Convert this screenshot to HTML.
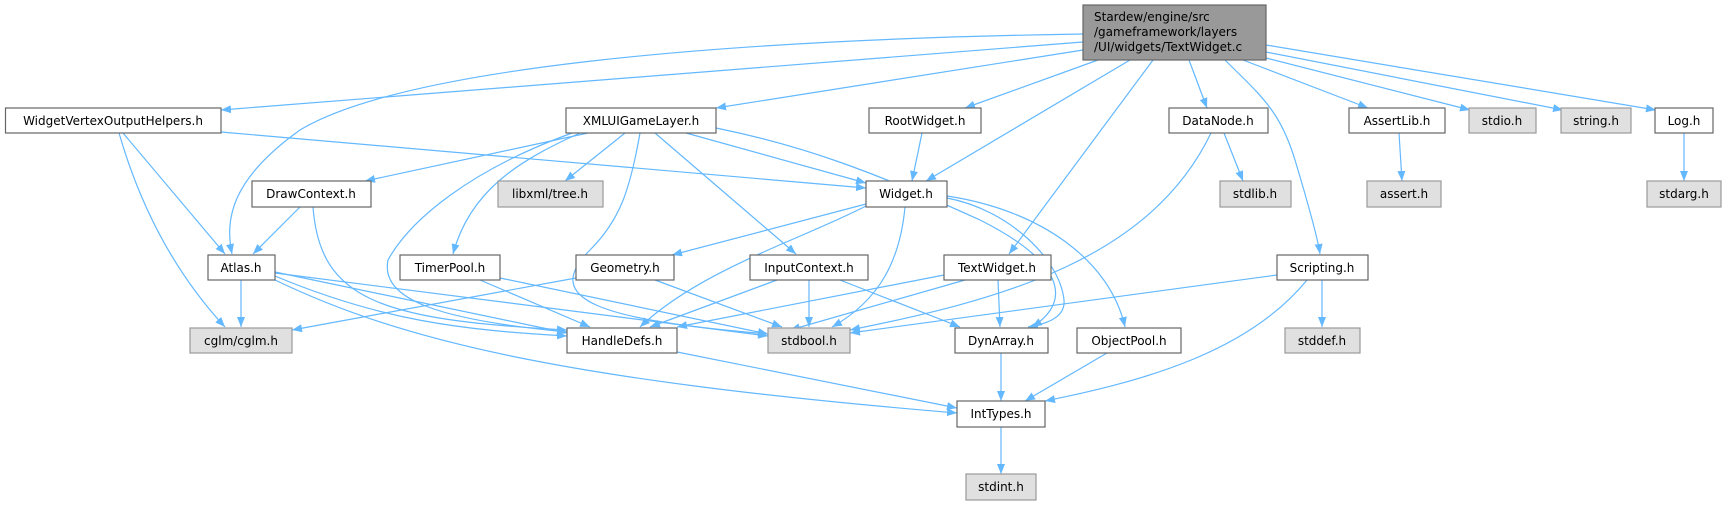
<!DOCTYPE html>
<html><head><meta charset="utf-8"><style>
html,body{margin:0;padding:0;background:#fff;width:1727px;height:505px;overflow:hidden}
svg text{font-family:"DejaVu Sans","Liberation Sans",sans-serif;font-size:12px;fill:#000}
.e{fill:none;stroke:#63b8ff;stroke-width:1.2}
.n{fill:#fff;stroke:#666;stroke-width:1.2}
.g{fill:#e0e0e0;stroke:#999;stroke-width:1.2}
</style></head><body>
<svg width="1727" height="505" viewBox="0 0 1727 505" xmlns="http://www.w3.org/2000/svg">
<defs><marker id="a" markerWidth="11" markerHeight="8" refX="10" refY="4" orient="auto" markerUnits="userSpaceOnUse"><path d="M0,0 L10,4 L0,8 z" fill="#63b8ff"/></marker></defs>
<g marker-end="url(#a)">
<path class="e" d="M1083,42 L221,110"/>
<path class="e" d="M1083,34 C700,40 400,70 300,130 C230,180 225,220 232,254"/>
<path class="e" d="M1083,50 L716,108"/>
<path class="e" d="M1098,60 L965,108"/>
<path class="e" d="M1130,60 L926,181"/>
<path class="e" d="M1153,60 L1009,254"/>
<path class="e" d="M1189,60 L1207,108"/>
<path class="e" d="M1225,60 C1260,95 1280,110 1295,160 C1310,210 1318,240 1320,254"/>
<path class="e" d="M1243,60 L1368,108"/>
<path class="e" d="M1266,58 L1470,110"/>
<path class="e" d="M1266,52 L1563,110"/>
<path class="e" d="M1266,45 L1656,110"/>
<path class="e" d="M922,133 L912,181"/>
<path class="e" d="M221,132 L866,188"/>
<path class="e" d="M123,133 L225,254"/>
<path class="e" d="M119,133 C150,240 200,300 225,327"/>
<path class="e" d="M588,133 L365,181"/>
<path class="e" d="M625,133 L565,181"/>
<path class="e" d="M686,133 L866,183"/>
<path class="e" d="M580,133 C520,160 470,190 453,254"/>
<path class="e" d="M655,133 L796,254"/>
<path class="e" d="M572,133 C470,170 410,220 388,260 C380,300 440,320 567,332"/>
<path class="e" d="M640,133 C630,190 620,220 590,250 C540,300 600,320 768,334"/>
<path class="e" d="M716,128 C800,145 870,170 980,220 C1060,260 1075,300 1032,327"/>
<path class="e" d="M300,207 L253,254"/>
<path class="e" d="M313,207 C320,300 380,320 567,330"/>
<path class="e" d="M241,280 L241,327"/>
<path class="e" d="M275,272 L567,333"/>
<path class="e" d="M275,276 C380,320 460,330 567,336"/>
<path class="e" d="M275,273 L768,336"/>
<path class="e" d="M275,280 C400,340 560,380 957,413"/>
<path class="e" d="M480,280 L590,327"/>
<path class="e" d="M500,278 L768,334"/>
<path class="e" d="M576,278 L292,330"/>
<path class="e" d="M655,280 L782,327"/>
<path class="e" d="M777,280 L650,327"/>
<path class="e" d="M809,280 L809,327"/>
<path class="e" d="M840,280 L960,327"/>
<path class="e" d="M866,204 L672,255"/>
<path class="e" d="M866,206 C800,240 700,270 640,327"/>
<path class="e" d="M905,207 C900,260 880,300 832,327"/>
<path class="e" d="M947,198 C1010,210 1060,260 1064,300 C1066,320 1040,325 1028,327"/>
<path class="e" d="M947,196 C1040,210 1110,260 1125,327"/>
<path class="e" d="M944,275 L677,327"/>
<path class="e" d="M965,280 L790,330"/>
<path class="e" d="M998,280 L1000,327"/>
<path class="e" d="M1211,133 C1150,260 1000,300 850,330"/>
<path class="e" d="M1224,133 L1243,181"/>
<path class="e" d="M1399,133 L1402,181"/>
<path class="e" d="M1684,133 L1684,181"/>
<path class="e" d="M1277,275 L850,333"/>
<path class="e" d="M1322,280 L1322,327"/>
<path class="e" d="M1307,280 C1250,350 1150,380 1045,401"/>
<path class="e" d="M677,352 L957,408"/>
<path class="e" d="M1001,353 L1001,401"/>
<path class="e" d="M1107,353 L1025,401"/>
<path class="e" d="M1001,427 L1001,474"/>
</g>
<rect x="1083" y="5" width="183" height="55" fill="#999" stroke="#666" stroke-width="1.2"/>
<text x="1094" y="21">Stardew/engine/src</text>
<text x="1094" y="36">/gameframework/layers</text>
<text x="1094" y="51">/UI/widgets/TextWidget.c</text>

<rect class="n" x="5.5" y="108" width="215.5" height="25"/><text x="113" y="125" text-anchor="middle">WidgetVertexOutputHelpers.h</text>
<rect class="n" x="566" y="108" width="150" height="25"/><text x="641" y="125" text-anchor="middle">XMLUIGameLayer.h</text>
<rect class="n" x="869" y="108" width="112" height="25"/><text x="925" y="125" text-anchor="middle">RootWidget.h</text>
<rect class="n" x="1169" y="108" width="99" height="25"/><text x="1218" y="125" text-anchor="middle">DataNode.h</text>
<rect class="n" x="1349" y="108" width="96" height="25"/><text x="1397" y="125" text-anchor="middle">AssertLib.h</text>
<rect class="g" x="1469" y="108" width="67" height="25"/><text x="1502" y="125" text-anchor="middle">stdio.h</text>
<rect class="g" x="1561" y="108" width="70" height="25"/><text x="1596" y="125" text-anchor="middle">string.h</text>
<rect class="n" x="1655" y="108" width="58" height="25"/><text x="1684" y="125" text-anchor="middle">Log.h</text>

<rect class="n" x="252" y="181" width="119" height="26"/><text x="311" y="198" text-anchor="middle">DrawContext.h</text>
<rect class="g" x="498" y="181" width="105" height="26"/><text x="550" y="198" text-anchor="middle">libxml/tree.h</text>
<rect class="n" x="866" y="181" width="81" height="26"/><text x="906" y="198" text-anchor="middle">Widget.h</text>
<rect class="g" x="1220" y="181" width="71" height="26"/><text x="1255" y="198" text-anchor="middle">stdlib.h</text>
<rect class="g" x="1367" y="181" width="74" height="26"/><text x="1404" y="198" text-anchor="middle">assert.h</text>
<rect class="g" x="1647" y="181" width="74" height="26"/><text x="1684" y="198" text-anchor="middle">stdarg.h</text>

<rect class="n" x="208" y="255" width="67" height="25"/><text x="241" y="272" text-anchor="middle">Atlas.h</text>
<rect class="n" x="400" y="255" width="100" height="25"/><text x="450" y="272" text-anchor="middle">TimerPool.h</text>
<rect class="n" x="576" y="255" width="98" height="25"/><text x="625" y="272" text-anchor="middle">Geometry.h</text>
<rect class="n" x="750" y="255" width="118" height="25"/><text x="809" y="272" text-anchor="middle">InputContext.h</text>
<rect class="n" x="944" y="255" width="107" height="25"/><text x="997" y="272" text-anchor="middle">TextWidget.h</text>
<rect class="n" x="1277" y="255" width="91" height="25"/><text x="1322" y="272" text-anchor="middle">Scripting.h</text>

<rect class="g" x="190" y="328" width="102" height="25"/><text x="241" y="345" text-anchor="middle">cglm/cglm.h</text>
<rect class="n" x="567" y="328" width="110" height="25"/><text x="622" y="345" text-anchor="middle">HandleDefs.h</text>
<rect class="g" x="768" y="328" width="82" height="25"/><text x="809" y="345" text-anchor="middle">stdbool.h</text>
<rect class="n" x="955" y="328" width="93" height="25"/><text x="1001" y="345" text-anchor="middle">DynArray.h</text>
<rect class="n" x="1077" y="328" width="104" height="25"/><text x="1129" y="345" text-anchor="middle">ObjectPool.h</text>
<rect class="g" x="1285" y="328" width="75" height="25"/><text x="1322" y="345" text-anchor="middle">stddef.h</text>

<rect class="n" x="957" y="401" width="88" height="26"/><text x="1001" y="418" text-anchor="middle">IntTypes.h</text>
<rect class="g" x="966" y="474" width="70" height="26"/><text x="1001" y="491" text-anchor="middle">stdint.h</text>
</svg>
</body></html>
